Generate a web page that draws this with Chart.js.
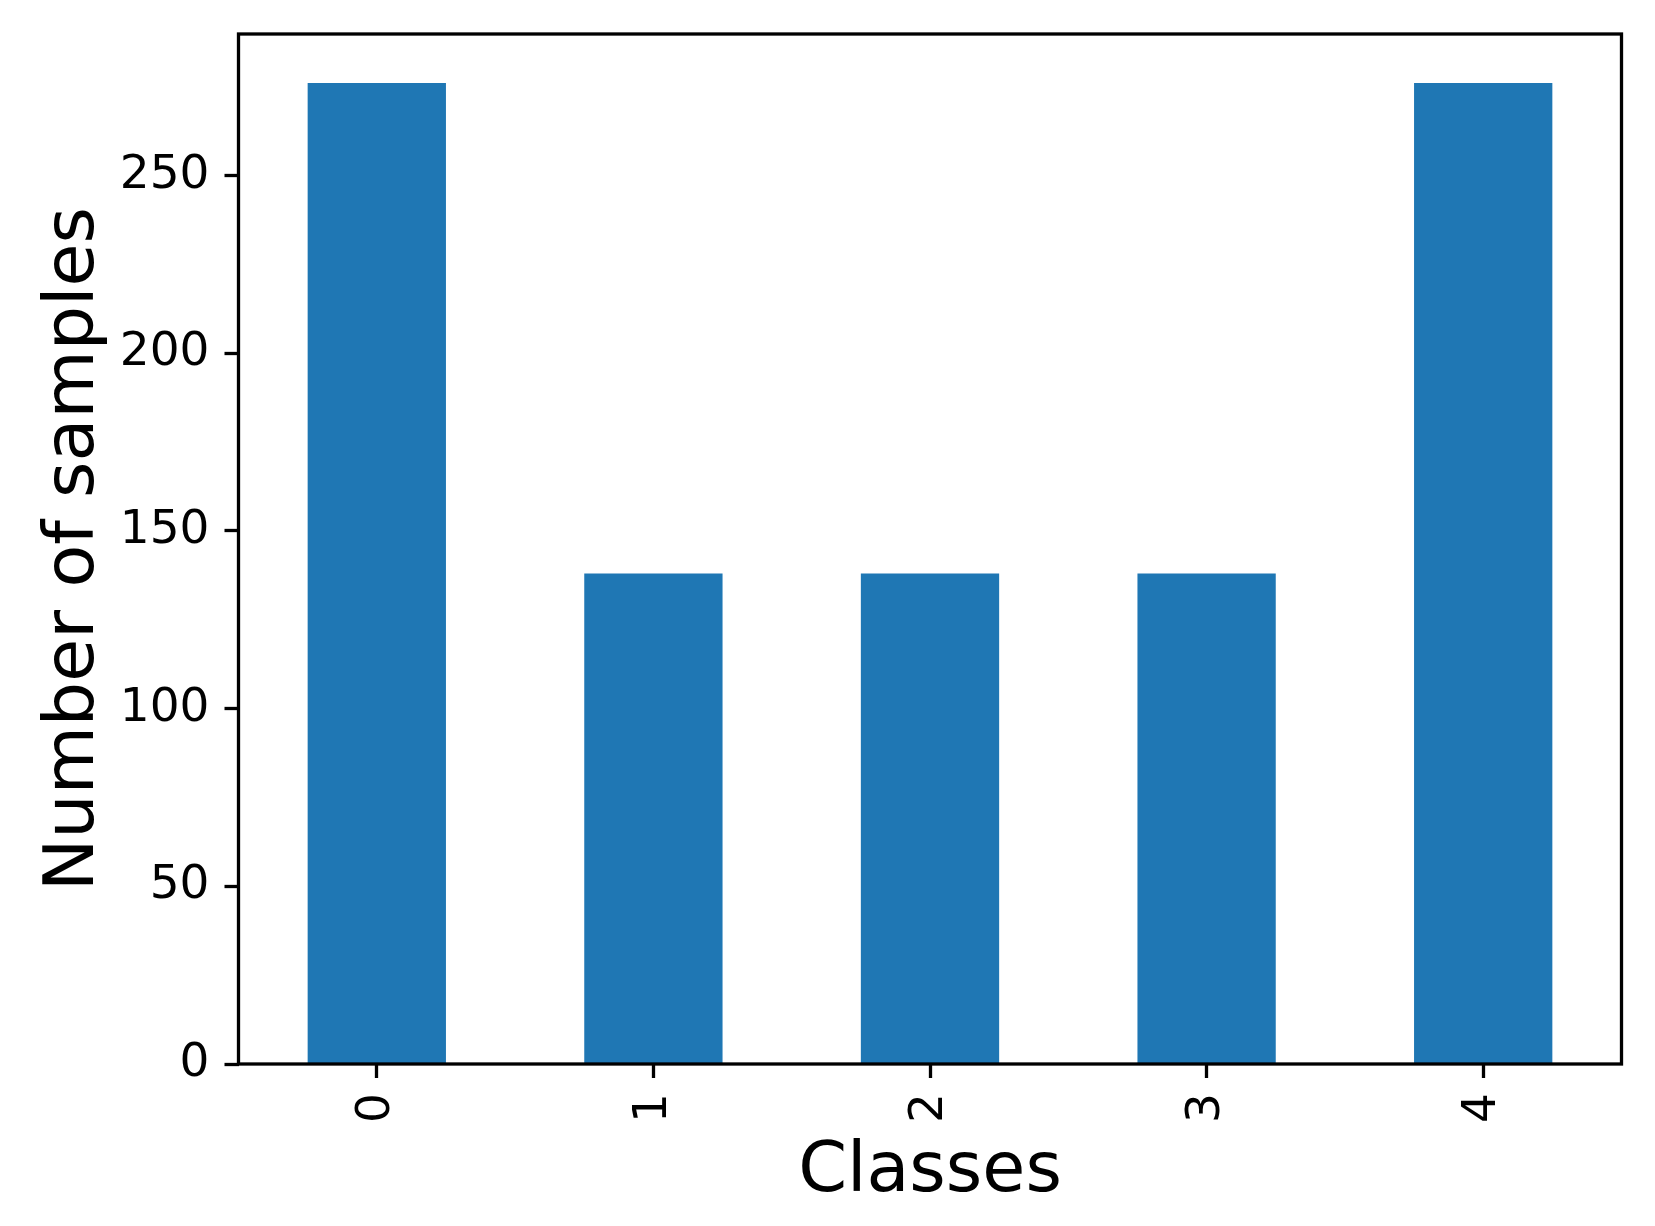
<!DOCTYPE html>
<html>
<head>
<meta charset="utf-8">
<script src="https://cdn.jsdelivr.net/npm/chart.js@4.4.0/dist/chart.umd.min.js"></script>
<style>
    html, body { margin: 0; padding: 0; background: #fff; }
    #wrap { width: 1655px; height: 1226px; }
</style>
</head>
<body>
<div id="wrap"><canvas id="bar-chart" width="1655" height="1226"></canvas></div>
<script>
// data
const classes = ['0', '1', '2', '3', '4'];
const sampleCounts = [276, 138, 138, 138, 276];
const yTicks = [0, 50, 100, 150, 200, 250];
const yMax = 289.8;

const frame = {
    id: 'frame',
    afterDatasetsDraw(chart) {
        const { ctx, chartArea: a } = chart;
        ctx.save();
        ctx.strokeStyle = '#000';
        ctx.lineWidth = 3.3;
        ctx.strokeRect(a.left, a.top, a.right - a.left, a.bottom - a.top);
        ctx.restore();
    }
};

Chart.defaults.font.family = '"DejaVu Sans", sans-serif';
Chart.defaults.color = '#000';

new Chart(document.getElementById('bar-chart'), {
    type: 'bar',
    data: {
        labels: classes,
        datasets: [{
            data: sampleCounts,
            backgroundColor: '#1f77b4',
            barPercentage: 0.5,
            categoryPercentage: 1.0
        }]
    },
    options: {
        responsive: false,
        animation: false,
        layout: { padding: { top: 34, right: 33.5, left: 0, bottom: 0 } },
        plugins: { legend: { display: false }, tooltip: { enabled: false } },
        scales: {
            x: {
                offset: true,
                border: { display: false },
                grid: { display: true, offset: false, drawOnChartArea: false, tickLength: 14, tickWidth: 3.3, tickColor: '#000' },
                ticks: { font: { size: 47 }, minRotation: 90, maxRotation: 90, padding: 15 },
                title: { display: true, text: 'Classes', font: { size: 70 }, padding: { top: 0, bottom: 11 } },
                afterFit: s => { s.height = 162; s.paddingLeft = 0; s.paddingRight = 0; }
            },
            y: {
                min: 0,
                max: yMax,
                border: { display: false },
                grid: { display: true, drawOnChartArea: false, tickLength: 14, tickWidth: 3.3, tickColor: '#000' },
                ticks: { font: { size: 47 }, padding: 15 },
                afterBuildTicks: s => { s.ticks = yTicks.map(v => ({ value: v })); },
                title: { display: true, text: 'Number of samples', font: { size: 70 }, padding: { top: 32.5, bottom: 0 } },
                afterFit: s => { s.width = 238.5; s.paddingTop = 0; s.paddingBottom = 0; }
            }
        }
    },
    plugins: [frame]
});
</script>
</body>
</html>
